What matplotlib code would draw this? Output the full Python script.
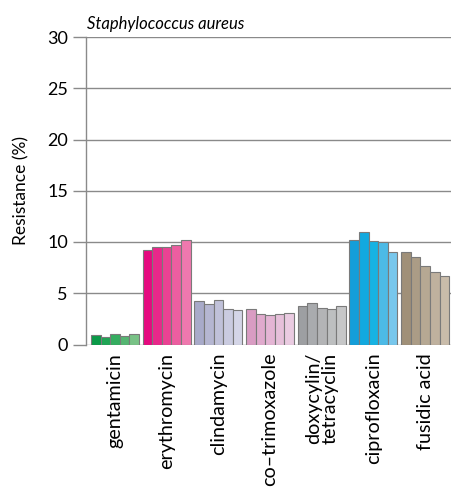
import matplotlib
matplotlib.use("Agg")
import matplotlib.pyplot as plt
import numpy as np

categories = ["gentamicin", "erythromycin", "clindamycin", "co\u2013trimoxazole",
              "doxycylin/\ntetracyclin", "ciprofloxacin", "fusidic acid"]
values = {
    "gentamicin":   [0.95, 0.75, 1.0, 0.8, 1.0],
    "erythromycin": [9.2, 9.5, 9.5, 9.7, 10.15],
    "clindamycin":  [4.2, 4.0, 4.3, 3.5, 3.4],
    "co-trimoxazole": [3.5, 3.0, 2.9, 3.0, 3.1],
    "doxycylin":    [3.75, 4.05, 3.6, 3.45, 3.8],
    "ciprofloxacin": [10.15, 11.0, 10.1, 10.0, 9.0],
    "fusidic acid": [9.0, 8.5, 7.65, 7.05, 6.65],
}
colors = [
    ["#0a9a48", "#1fa554", "#35ad60", "#55b672", "#78c286"],
    ["#e5097f", "#e8288a", "#ea4293", "#ec5ea0", "#ef78ae"],
    ["#a8aac9", "#b5b6d1", "#c0c1d9", "#cacbe0", "#d4d5e7"],
    ["#d99cc3", "#e0aacd", "#e4b5d4", "#e6c0da", "#eacbe1"],
    ["#9d9fa2", "#a9abae", "#b3b4b6", "#bdbfc0", "#c6c7c8"],
    ["#149ed9", "#12a9df", "#16b3e3", "#4cbae6", "#78c7ec"],
    ["#a09078", "#ab9c86", "#b6a893", "#bfb19e", "#c9bcaa"],
]
title = "Staphylococcus aureus"
ylabel = "Resistance (%)"

plt.rcParams['font.family'] = ['Lato', 'DejaVu Sans']

fig = plt.figure(figsize=(4.52, 4.88), dpi=100)
ax = fig.add_axes([86/452, 1-344.5/488, (452-86)/452, (344.5-37)/488])

bw = 0.186
series = list(values.values())
for gi, vals in enumerate(series):
    for bi, v in enumerate(vals):
        x = gi + (bi - 2) * bw
        ax.bar(x, v, width=bw, color=colors[gi][bi], edgecolor="#7a7a7a",
               linewidth=0.8, zorder=3)

ax.set_xlim(-0.561, 6.52)
ax.set_ylim(0, 30)
ax.set_yticks([0, 5, 10, 15, 20, 25, 30])
ax.yaxis.grid(True, color="#8a8a8a", linewidth=1.0, zorder=0)
ax.set_axisbelow(True)
for s in ["top", "right", "bottom"]:
    ax.spines[s].set_visible(False)
ax.spines["left"].set_color("#8a8a8a")
ax.spines["left"].set_linewidth(1.0)
ax.tick_params(axis="y", length=9.5, width=1.0, color="#8a8a8a", labelsize=13, pad=3.5)
ax.set_xticks(range(len(categories)))
ax.set_xticklabels(categories, rotation=90, fontsize=14.2, va="top", ha="center",
                   linespacing=0.95)
ax.tick_params(axis="x", length=0, pad=6)
ax.set_ylabel(ylabel, fontsize=12.5, labelpad=13)
ax.text(0.003, 1.015, title, transform=ax.transAxes, fontsize=12,
        style="italic", ha="left", va="bottom")

fig.savefig("out.png", dpi=100)
